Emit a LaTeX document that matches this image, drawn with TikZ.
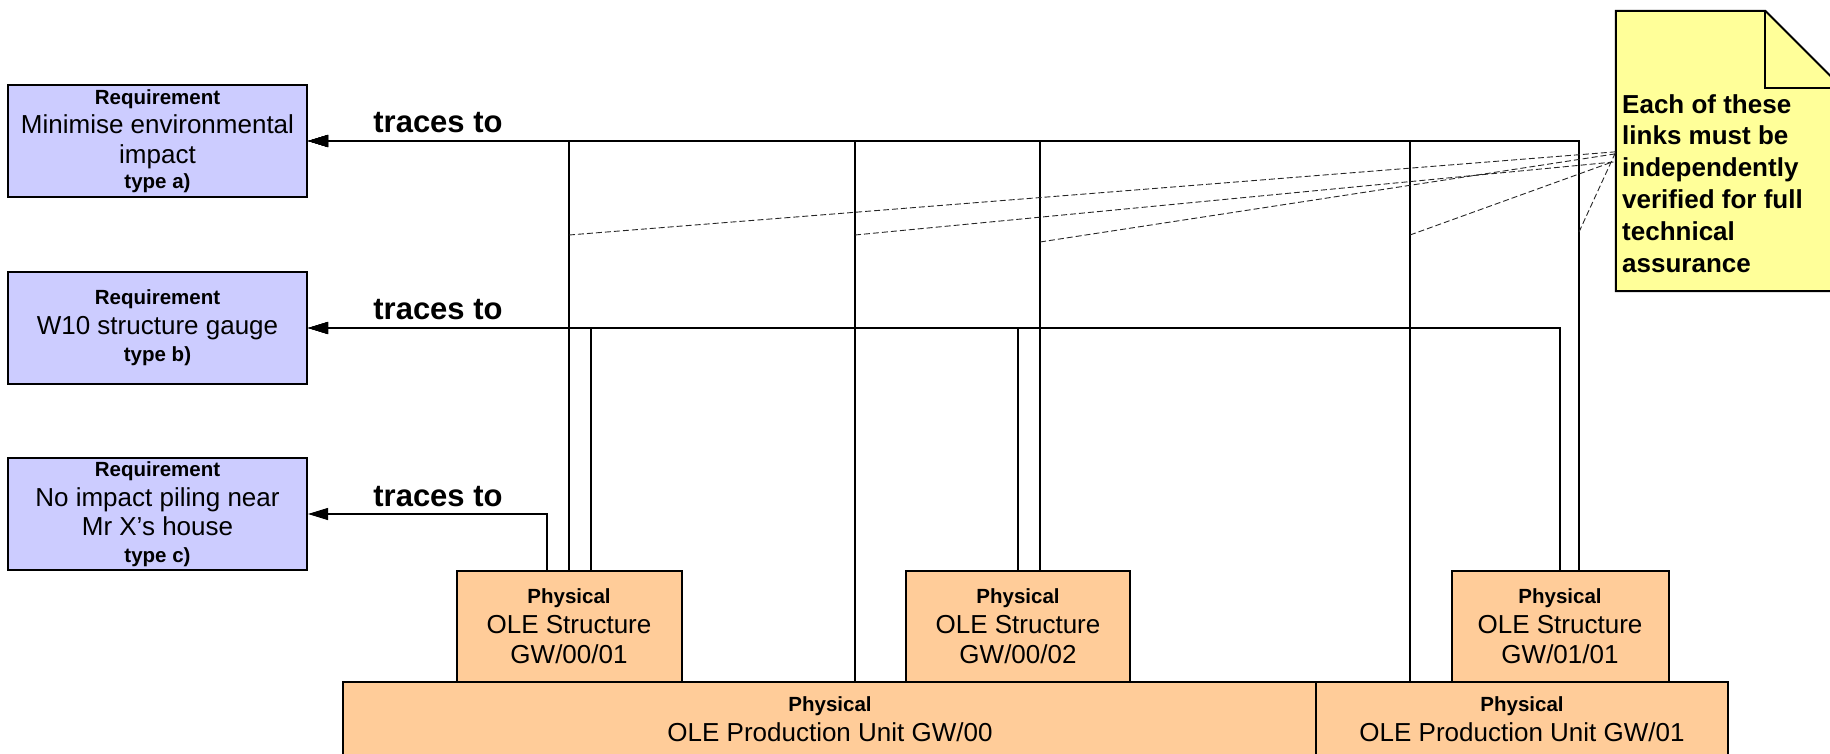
\documentclass[tikz,border=0pt]{standalone}
\usepackage{fontspec}
\setmainfont{Liberation Sans}
\usetikzlibrary{arrows.meta}

\definecolor{reqfill}{HTML}{CCCCFF}
\definecolor{physfill}{HTML}{FFCC99}
\definecolor{notefill}{HTML}{FFFF99}

% small bold heading line inside a box
\newcommand{\kindline}[1]{{\fontsize{20.5}{24}\selectfont\bfseries #1}}

\begin{document}
\begin{tikzpicture}[x=1pt,y=-1pt,
  reqbox/.style={draw=black, line width=2pt, fill=reqfill, inner sep=0pt,
    minimum width=299pt, minimum height=112pt, align=center,
    font=\fontsize{26}{29.5}\selectfont},
  physbox/.style={draw=black, line width=2pt, fill=physfill, inner sep=0pt,
    align=center, font=\fontsize{26}{30}\selectfont},
  trace/.style={draw=black, line width=1.1pt, -{Triangle[length=20pt,width=12pt]}},
  tracelabel/.style={font=\fontsize{31}{36}\selectfont\bfseries, anchor=base, inner sep=0pt},
  verify/.style={draw=black!85, line width=0.9pt, dash pattern=on 6pt off 3pt},
  notetext/.style={font=\fontsize{26}{31.8}\selectfont\bfseries, align=left,
    inner sep=0pt, anchor=north west},
]
\useasboundingbox (0,0) rectangle (1830,754);

% requirements
\node[reqbox] (ra) at (157.5,141) {\kindline{Requirement}\\Minimise environmental\\impact\\[-4pt]\kindline{type a)}};
\node[reqbox] (rb) at (157.5,328) {\kindline{Requirement}\\W10 structure gauge\\[-2pt]\kindline{type b)}};
\node[reqbox] (rc) at (157.5,514) {\kindline{Requirement}\\No impact piling near\\Mr X’s house\\[-3pt]\kindline{type c)}};

% physical items
\node[physbox, minimum width=974pt, minimum height=74pt] (pu0) at (830,719) {\kindline{Physical}\\OLE Production Unit GW/00};
\node[physbox, minimum width=412pt, minimum height=74pt] (pu1) at (1522,719) {\kindline{Physical}\\OLE Production Unit GW/01};
\node[physbox, minimum width=225pt, minimum height=111pt] (s1) at (569,626.5) {\kindline{Physical}\\OLE Structure\\GW/00/01};
\node[physbox, minimum width=224pt, minimum height=111pt] (s2) at (1018,626.5) {\kindline{Physical}\\OLE Structure\\GW/00/02};
\node[physbox, minimum width=217pt, minimum height=111pt] (s3) at (1560,626.5) {\kindline{Physical}\\OLE Structure\\GW/01/01};

% traces-to connectors
\draw[trace] (s1.north) |- (ra.east);
\draw[trace] ([xshift=22pt]s1.north) |- (rb.east);
\draw[trace] ([xshift=-22pt]s1.north) |- (rc.east);
\draw[trace] ([xshift=25pt]pu0.north) |- (ra.east);
\draw[trace] (s2.north) |- (rb.east);
\draw[trace] ([xshift=22pt]s2.north) |- (ra.east);
\draw[trace] ([xshift=-112pt]pu1.north) |- (ra.east);
\draw[trace] (s3.north) |- (rb.east);
\draw[trace] ([xshift=19pt]s3.north) |- (ra.east);

\node[tracelabel] (ta) at (438,133) {traces to};
\node[tracelabel] (tb) at (438,319) {traces to};
\node[tracelabel] (tc) at (438,506) {traces to};

% note with folded corner (its right side runs past the edge)
\node[minimum width=226pt, minimum height=280pt, inner sep=0pt] (note) at (1729,151) {};
\draw[line width=2pt, fill=notefill, line join=miter]
  (note.north west) -- ([xshift=-77pt]note.north east) -- ([yshift=-77pt]note.north east)
  -- (note.south east) -- (note.south west) -- cycle;
\draw[line width=2pt] ([xshift=-77pt]note.north east) |- ([yshift=-77pt]note.north east);
\node[notetext] (notetxt) at (1622,94) {Each of these\\links must be\\independently\\verified for full\\technical\\assurance};

% points on the links that the note refers to
\coordinate (d1) at (569,235);
\coordinate (d2) at (855,235);
\coordinate (d3) at (1040,242);
\coordinate (d4) at (1410,235);
\coordinate (d5) at (1579,232);
\draw[verify] (d1) -- ([yshift=-141pt]note.north west);
\draw[verify] (d2) -- ([yshift=-151pt]note.north west);
\draw[verify] (d3) -- ([yshift=-143pt]note.north west);
\draw[verify] (d4) -- ([xshift=-3pt,yshift=-151pt]note.north west);
\draw[verify] (d5) -- ([yshift=-141pt]note.north west);
\end{tikzpicture}
\end{document}
